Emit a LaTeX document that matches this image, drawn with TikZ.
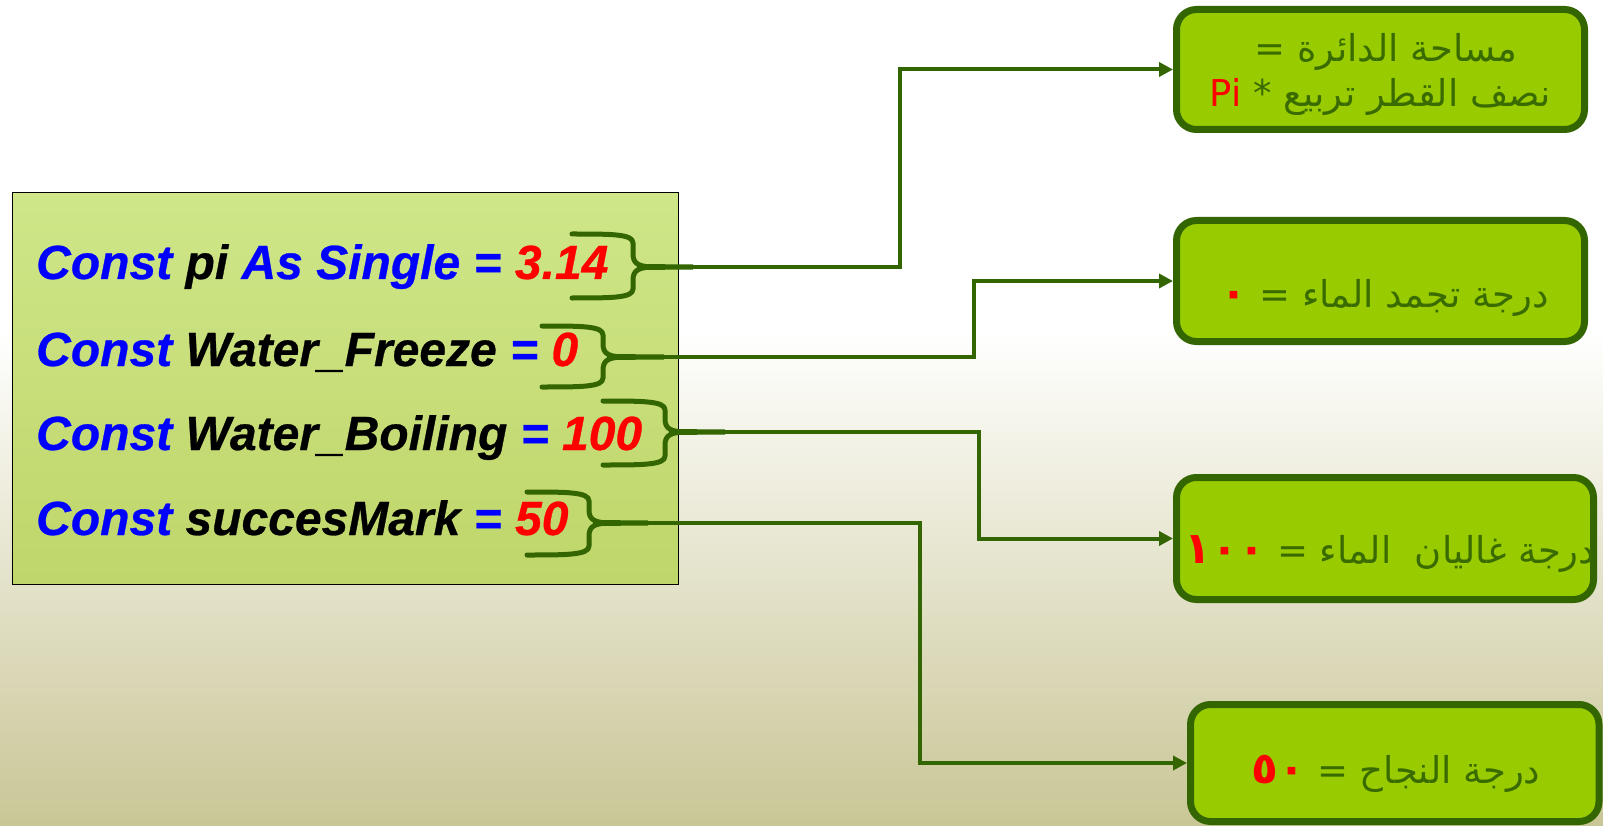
\documentclass[tikz,border=0pt]{standalone}
\usepackage{fontspec}
\usetikzlibrary{arrows.meta}
\newfontfamily\codefont[BoldItalicFeatures={FakeBold=0.6}]{Liberation Sans}
\newfontfamily\arabicfont[Script=Arabic]{DejaVu Sans}
\TeXXeTstate=1
\definecolor{dkgreen}{HTML}{336600}
\definecolor{txtgreen}{HTML}{3A6B00}
\definecolor{boxgreen}{HTML}{99CC00}
\definecolor{codetop}{HTML}{CFE689}
\definecolor{codebot}{HTML}{BFD66A}
\definecolor{bgbot}{HTML}{C9C696}
\definecolor{cblue}{HTML}{0000FF}
\definecolor{cred}{HTML}{FF0000}
\newcommand{\reddigits}[1]{\textcolor{cred}{\bfseries\fontsize{44}{45}\selectfont #1}}
\tikzset{
  codeline/.style={anchor=base west, inner sep=0pt, font=\codefont\bfseries\itshape\fontsize{48}{56}\selectfont},
  bracestroke/.style={draw=dkgreen, line width=5pt, line cap=round, line join=round},
  conn/.style={draw=dkgreen, line width=4pt, -{Triangle[length=14pt,width=14pt]}},
  resbox/.style={draw=dkgreen, fill=boxgreen, line width=7pt, rounded corners=20pt, inner sep=0pt},
  restext/.style={anchor=base, inner sep=0pt, text=txtgreen, align=center, font=\arabicfont\fontsize{37}{45}\selectfont},
}
\begin{document}
\begin{tikzpicture}[x=1pt,y=-1pt]
\useasboundingbox (0,0) rectangle (1603,826);
\fill[white] (0,0) rectangle (1603,330);
\shade[top color=white, bottom color=bgbot] (0,330) rectangle (1603,826);
% code box
\node[draw=black, line width=1pt, top color=codetop, bottom color=codebot, minimum width=666pt, minimum height=391pt, inner sep=0pt] (code) at (345,388.5) {};
\node[codeline] (l1) at (36,279) {\textcolor{cblue}{Const} pi \textcolor{cblue}{As Single =} \textcolor{cred}{3.14}};
\node[codeline] (l2) at (36,366) {\textcolor{cblue}{Const} Water\_Freeze \textcolor{cblue}{=} \textcolor{cred}{0}};
\node[codeline] (l3) at (36,450) {\textcolor{cblue}{Const} Water\_Boiling \textcolor{cblue}{=} \textcolor{cred}{100}};
\node[codeline] (l4) at (36,535) {\textcolor{cblue}{Const} succesMark \textcolor{cblue}{=} \textcolor{cred}{50}};
% braces
\foreach \L/\R/\T/\B/\C/\X/\n in {572/633/234/298/267/693/t1, 542/603/326/387/357/664/t2, 603/665/401/465/432/725/t3, 527/589/492/555/523/648/t4} {
  \draw[bracestroke] (\L,\T) .. controls (\L+40,\T) and (\R,\T) .. (\R,\T+9) -- (\R,\C-13) .. controls (\R,\C-3) and (\R+6,\C) .. (\R+22,\C);
  \draw[bracestroke] (\L,\B) .. controls (\L+40,\B) and (\R,\B) .. (\R,\B-9) -- (\R,\C+13) .. controls (\R,\C+3) and (\R+6,\C) .. (\R+22,\C);
  \fill[dkgreen] (\R+4,\C-3) -- (\X,\C-2.5) -- (\X,\C+2.5) -- (\R+4,\C+3) -- cycle;
  \coordinate (\n) at (\X,\C);
}
% result boxes
\node[resbox, minimum width=408pt, minimum height=120pt] (b1) at (1380.5,69.5) {};
\node[resbox, minimum width=408pt, minimum height=121pt] (b2) at (1380.5,281) {};
\node[resbox, minimum width=417pt, minimum height=122pt] (b3) at (1385,538.5) {};
\node[resbox, minimum width=408.5pt, minimum height=117pt] (b4) at (1394.75,763) {};
\node[restext] (b1a) at (1386,62) {\beginR مساحة الدائرة =\endR};
\node[restext] (b1b) at (1380,107) {\beginR نصف القطر تربيع * \beginL\textcolor{cred}{Pi}\endL\endR};
\node[restext] (b2t) at (1385,307) {\beginR درجة تجمد الماء = \beginL\reddigits{٠}\endL\endR};
\node[restext] (b3t) at (1390,563) {\beginR درجة غاليان \ الماء = \beginL\reddigits{١٠٠}\endL\endR};
\node[restext] (b4t) at (1396,783) {\beginR درجة النجاح = \beginL\reddigits{٥٠}\endL\endR};
% connectors
\draw[conn] (t1) -- ++(207,0) |- (b1.west);
\draw[conn] (t2) -- ++(310,0) |- (b2.west);
\draw[conn] (t3) -- ++(254,0) |- (b3.west);
\draw[conn] (t4) -- ++(272,0) |- (b4.west);
\end{tikzpicture}
\end{document}
